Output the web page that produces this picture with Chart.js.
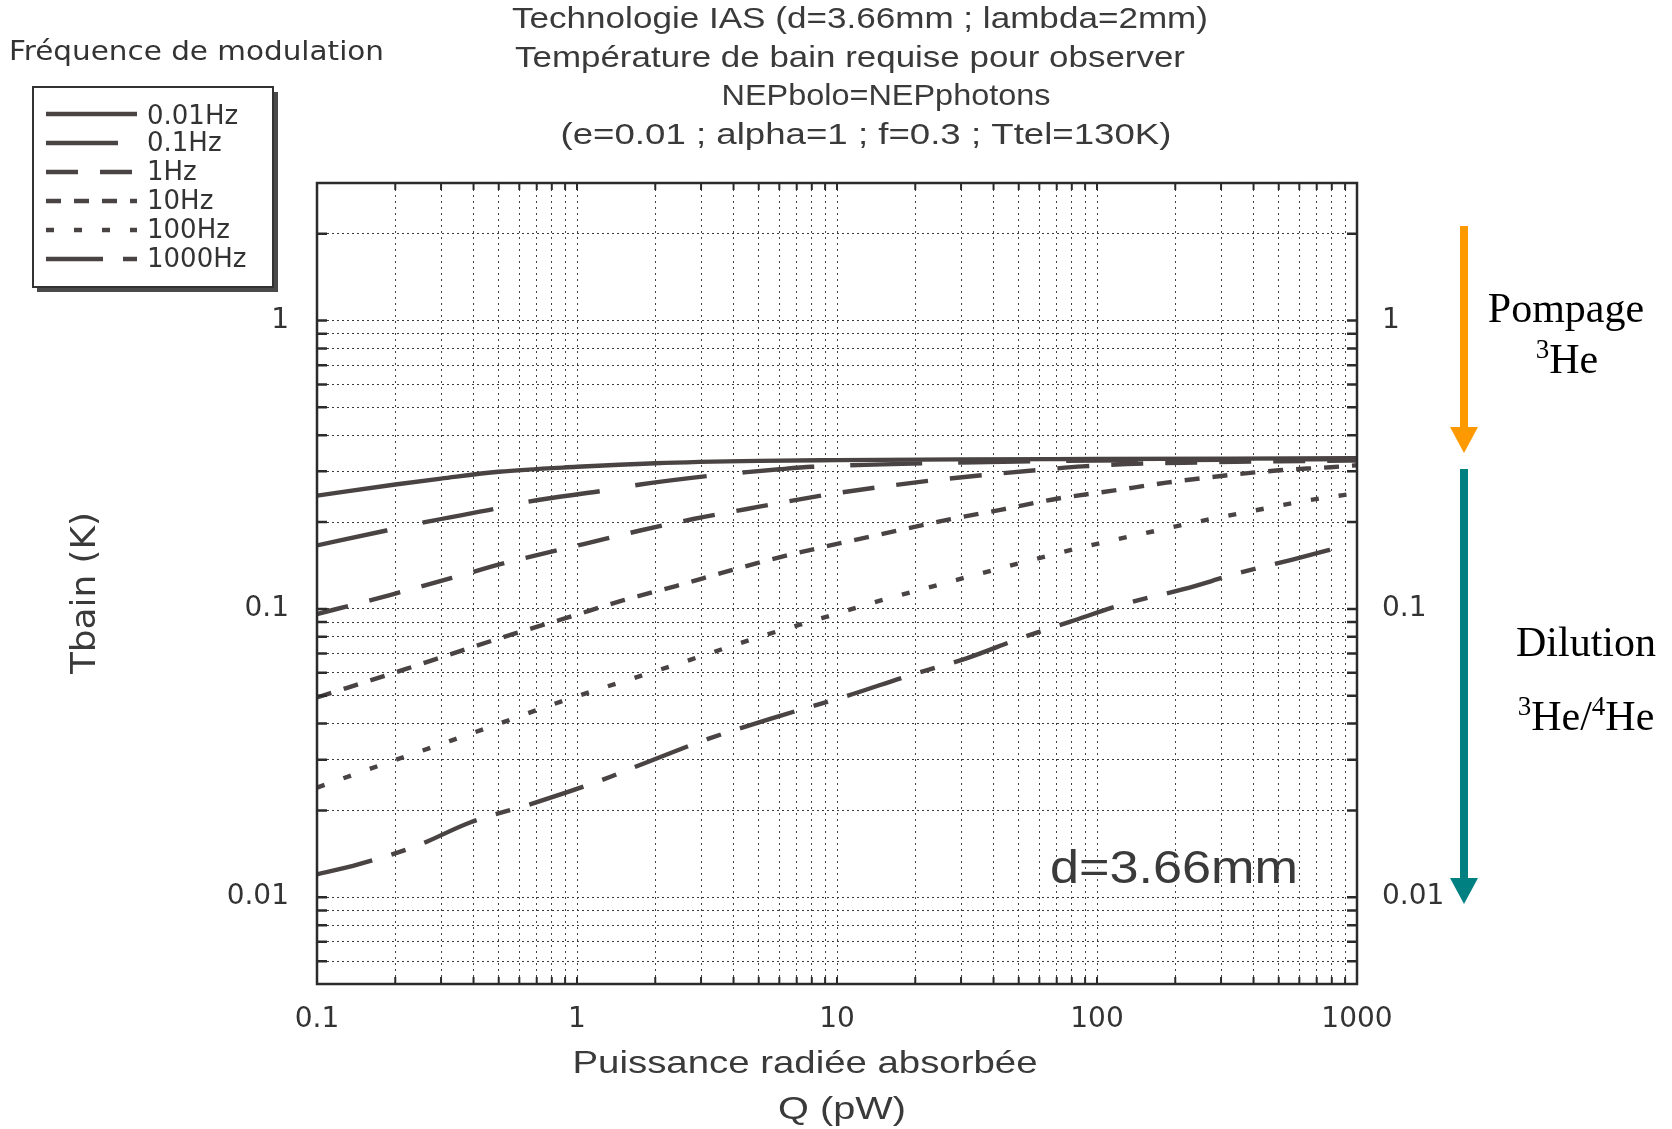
<!DOCTYPE html>
<html><head><meta charset="utf-8">
<script src="https://cdn.jsdelivr.net/npm/chart.js@4.4.1/dist/chart.umd.min.js"></script>
<style>html,body{margin:0;padding:0;background:#fff;}#wrap{width:1672px;height:1129px;position:relative;}</style>
</head><body><div id="wrap"><canvas id="c"></canvas></div>
<script>
// ---------- DATA ----------
const seriesLabels = ['0.01Hz', '0.1Hz', '1Hz', '10Hz', '100Hz', '1000Hz'];
// 0.01 Hz
const q0 = [0.1, 0.2, 0.3, 0.5, 1, 2, 5, 10, 30, 100, 1000];
const t0 = [0.247, 0.27, 0.283, 0.299, 0.311, 0.32, 0.326, 0.328, 0.33, 0.331, 0.333];
// 0.1 Hz
const q1 = [0.1, 0.185, 0.26, 0.48, 0.66, 1.26, 1.75, 3.3, 4.5, 6, 8, 15, 30, 60, 100, 300, 1000];
const t1 = [0.166, 0.187, 0.2, 0.222, 0.236, 0.257, 0.27, 0.29, 0.298, 0.305, 0.311, 0.317, 0.322, 0.325, 0.327, 0.329, 0.331];
// 1 Hz
const q2 = [0.1, 0.16, 0.2, 0.33, 0.54, 1.07, 1.75, 2.8, 4.5, 6, 9.7, 15.7, 25, 41, 67, 88, 130, 250, 500, 1000];
const t2 = [0.096, 0.107, 0.113, 0.128, 0.145, 0.168, 0.187, 0.205, 0.222, 0.233, 0.251, 0.267, 0.281, 0.294, 0.306, 0.312, 0.318, 0.322, 0.325, 0.327];
// 10 Hz
const q3 = [0.1, 0.22, 0.36, 0.57, 0.93, 1.5, 2.4, 3.9, 6, 10, 16.7, 26.8, 43, 70, 115, 185, 300, 490, 790, 1000];
const t3 = [0.0493, 0.0619, 0.0717, 0.0819, 0.0936, 0.107, 0.12, 0.136, 0.151, 0.168, 0.186, 0.204, 0.221, 0.241, 0.257, 0.274, 0.289, 0.302, 0.31, 0.315];
// 100 Hz
const q4 = [0.1, 0.185, 0.33, 0.51, 0.8, 1.24, 2, 3.25, 5.2, 8.8, 13.7, 22, 36, 58, 94, 153, 250, 400, 650, 1000];
const t4 = [0.024, 0.0292, 0.035, 0.0402, 0.0465, 0.053, 0.0608, 0.0702, 0.0807, 0.093, 0.105, 0.118, 0.133, 0.149, 0.166, 0.183, 0.2015, 0.219, 0.238, 0.252];
// 1000 Hz
const q5 = [0.1, 0.144, 0.243, 0.39, 0.66, 1.19, 1.86, 3.19, 6, 10.7, 19.7, 31.7, 51, 79, 132, 215, 350, 560, 914];
const t5 = [0.012, 0.013, 0.0151, 0.0182, 0.021, 0.0251, 0.0294, 0.0354, 0.0425, 0.0496, 0.0594, 0.0675, 0.0792, 0.0903, 0.105, 0.117, 0.133, 0.148, 0.166];

const xMajorTicks = [0.1, 1, 10, 100, 1000];
const yMajorTicks = [0.01, 0.1, 1];
const xRange = [0.1, 1000];
const yRange = [0.005, 3];

const titleLines = [
  'Technologie IAS (d=3.66mm ; lambda=2mm)',
  'Température de bain requise pour observer',
  'NEPbolo=NEPphotons',
  '(e=0.01 ; alpha=1 ; f=0.3 ; Ttel=130K)'
];
const legendTitle = 'Fréquence de modulation';
const xTitle1 = 'Puissance radiée absorbée';
const xTitle2 = 'Q (pW)';
const yTitle = 'Tbain (K)';
const insideLabel = 'd=3.66mm';

// ---------- STYLE ----------
const INK = '#4a4344';
const TXT = '#333333';
const dashes = [[], [72, 36], [32, 22], [15, 13], [8, 20], [57, 20, 15, 20]];

const qs = [q0, q1, q2, q3, q4, q5];
const ts = [t0, t1, t2, t3, t4, t5];

function logGrid(min, max) {
  const out = [];
  let e = Math.floor(Math.log10(min) + 1e-9);
  while (Math.pow(10, e) <= max * 1.0000001) {
    for (let m = 1; m <= 9; m++) {
      const v = parseFloat((m * Math.pow(10, e)).toPrecision(6));
      if (v >= min * 0.999999 && v <= max * 1.000001) out.push(v);
    }
    e++;
  }
  return out;
}
function isMajor(v, list) { return list.some(m => Math.abs(Math.log10(v / m)) < 1e-6); }
function fmt(v) { return String(parseFloat(v.toPrecision(6))); }

function fitText(ctx, text, x, y, font, width, align) {
  ctx.save();
  ctx.font = font;
  const w = ctx.measureText(text).width;
  const s = width ? width / w : 1;
  ctx.translate(x, y);
  ctx.scale(s, 1);
  ctx.textAlign = align || 'center';
  ctx.fillText(text, 0, 0);
  ctx.restore();
}

const datasets = qs.map((q, i) => ({
  label: seriesLabels[i],
  data: q.map((x, j) => ({ x: x, y: ts[i][j] })),
  borderColor: INK,
  borderWidth: 4.4,
  borderDash: dashes[i],
  borderCapStyle: 'butt',
  pointRadius: 0,
  cubicInterpolationMode: 'monotone',
  fill: false,
  xAxisID: 'x',
  yAxisID: 'y'
}));

const decor = {
  id: 'decor',
  beforeDraw(chart) {
    const c = chart.ctx;
    c.save(); c.fillStyle = '#fff'; c.fillRect(0, 0, chart.width, chart.height); c.restore();
  },
  afterDraw(chart) {
    const ctx = chart.ctx, a = chart.chartArea, xs = chart.scales.x, ys = chart.scales.y;
    ctx.save();
    // frame
    ctx.strokeStyle = '#2b2b2b';
    ctx.lineWidth = 2.5;
    ctx.strokeRect(a.left, a.top, a.right - a.left, a.bottom - a.top);
    // inner tick marks
    ctx.lineWidth = 2;
    xs.ticks.forEach(t => {
      const px = xs.getPixelForValue(t.value);
      if (px <= a.left + 1 || px >= a.right - 1) return;
      ctx.beginPath();
      ctx.moveTo(px, a.top); ctx.lineTo(px, a.top + 7);
      ctx.moveTo(px, a.bottom); ctx.lineTo(px, a.bottom - 7);
      ctx.stroke();
    });
    ctx.lineWidth = 2.5;
    ys.ticks.forEach(t => {
      const py = ys.getPixelForValue(t.value);
      if (py <= a.top + 1 || py >= a.bottom - 1) return;
      ctx.beginPath();
      ctx.moveTo(a.left, py); ctx.lineTo(a.left + 10, py);
      ctx.moveTo(a.right, py); ctx.lineTo(a.right - 10, py);
      ctx.stroke();
    });

    // titles
    ctx.fillStyle = '#3a3a3a';
    ctx.textBaseline = 'middle';
    const tf = '30px "Liberation Sans Narrow", "Liberation Sans", sans-serif';
    fitText(ctx, titleLines[0], 860, 20, tf, 696);
    fitText(ctx, titleLines[1], 850, 59, tf, 670);
    fitText(ctx, titleLines[2], 886, 97, tf, 329);
    fitText(ctx, titleLines[3], 866, 136, tf, 611);

    // axis titles
    const af = '32px "Liberation Sans Narrow", "Liberation Sans", sans-serif';
    fitText(ctx, xTitle1, 805, 1064, af, 465);
    fitText(ctx, xTitle2, 842, 1110, af, 128);
    ctx.save();
    ctx.translate(86, 593);
    ctx.rotate(-Math.PI / 2);
    fitText(ctx, yTitle, 0, 0, '34px "DejaVu Sans", sans-serif', 162);
    ctx.restore();

    // inside label
    ctx.fillStyle = '#3a3a3a';
    ctx.textBaseline = 'alphabetic';
    fitText(ctx, insideLabel, 1050, 883, '46px "Liberation Sans", sans-serif', 248, 'left');

    // legend
    ctx.textBaseline = 'middle';
    ctx.fillStyle = TXT;
    fitText(ctx, legendTitle, 9, 53, '27px "DejaVu Sans", sans-serif', 375, 'left');
    ctx.fillStyle = '#4a4a4a';
    ctx.fillRect(37, 92, 241, 200);
    ctx.fillStyle = '#fff';
    ctx.fillRect(33, 87, 240, 200);
    ctx.strokeStyle = '#333';
    ctx.lineWidth = 2;
    ctx.strokeRect(33, 87, 240, 200);
    const ly = [114, 143, 172, 201, 230, 259];
    const lyText = [117, 144, 173, 202, 231, 260];
    ctx.font = '26px "DejaVu Sans", sans-serif';
    for (let i = 0; i < 6; i++) {
      ctx.save();
      ctx.strokeStyle = INK;
      ctx.lineWidth = 4.4;
      ctx.lineCap = 'butt';
      ctx.setLineDash(dashes[i]);
      ctx.beginPath();
      ctx.moveTo(46, ly[i]);
      ctx.lineTo(i === 1 ? 120 : 137, ly[i]);
      ctx.stroke();
      ctx.restore();
      ctx.fillStyle = TXT;
      ctx.textAlign = 'left';
      ctx.fillText(seriesLabels[i], 147, lyText[i]);
    }

    // arrows
    function arrow(x, y0, y1, color) {
      ctx.save();
      ctx.fillStyle = color;
      ctx.fillRect(x - 4, y0, 8, (y1 - 26) - y0 + 1);
      ctx.beginPath();
      ctx.moveTo(x - 14, y1 - 26);
      ctx.lineTo(x + 14, y1 - 26);
      ctx.lineTo(x, y1);
      ctx.closePath();
      ctx.fill();
      ctx.restore();
    }
    arrow(1464, 226, 453, '#FF9900');
    arrow(1464, 469, 904, '#008080');

    // right annotations (serif)
    ctx.fillStyle = '#000';
    ctx.textBaseline = 'alphabetic';
    ctx.textAlign = 'center';
    ctx.font = '42px "Liberation Serif", serif';
    ctx.fillText('Pompage', 1566, 322);
    ctx.fillText('Dilution', 1586, 656);
    function sup(parts, cx, base) {
      let total = 0;
      parts.forEach(p => { ctx.font = p[1] ? '27px "Liberation Serif", serif' : '42px "Liberation Serif", serif'; total += ctx.measureText(p[0]).width; });
      let x = cx - total / 2;
      ctx.textAlign = 'left';
      parts.forEach(p => {
        ctx.font = p[1] ? '27px "Liberation Serif", serif' : '42px "Liberation Serif", serif';
        ctx.fillText(p[0], x, p[1] ? base - 15 : base);
        x += ctx.measureText(p[0]).width;
      });
    }
    sup([['3', true], ['He', false]], 1567, 373);
    sup([['3', true], ['He/', false], ['4', true], ['He', false]], 1586, 730);
    ctx.restore();
  }
};

const gridX = logGrid(xRange[0], xRange[1]);
const gridY = logGrid(yRange[0], yRange[1]);

new Chart(document.getElementById('c'), {
  type: 'line',
  data: { datasets: datasets },
  options: {
    responsive: true,
    maintainAspectRatio: false,
    animation: false,
    events: [],
    layout: { padding: { top: 183, left: 0, right: 0, bottom: 0 } },
    plugins: { legend: { display: false }, tooltip: { enabled: false }, title: { display: false } },
    scales: {
      x: {
        type: 'logarithmic',
        position: 'bottom',
        min: xRange[0], max: xRange[1],
        bounds: 'data',
        afterBuildTicks: s => { s.ticks = gridX.map(v => ({ value: v, major: isMajor(v, xMajorTicks) })); },
        afterFit: s => { s.height = 145; },
        grid: { color: '#444', lineWidth: 1, drawTicks: false },
        border: { display: false, dash: [2, 4] },
        ticks: {
          autoSkip: false, maxRotation: 0, padding: 19, color: TXT,
          font: { family: 'DejaVu Sans', size: 28 },
          callback: v => isMajor(v, xMajorTicks) ? fmt(v) : ''
        }
      },
      y: {
        type: 'logarithmic',
        position: 'left',
        min: yRange[0], max: yRange[1],
        bounds: 'data',
        afterBuildTicks: s => { s.ticks = gridY.map(v => ({ value: v, major: isMajor(v, yMajorTicks) })); },
        afterFit: s => { s.width = 317; },
        grid: { color: '#3a3a3a', lineWidth: 1, drawTicks: false },
        border: { display: false, dash: [2, 3] },
        ticks: {
          autoSkip: false, padding: 28, color: TXT,
          font: { family: 'DejaVu Sans', size: 28 },
          callback: v => isMajor(v, yMajorTicks) ? fmt(v) : ''
        }
      },
      y2: {
        type: 'logarithmic',
        position: 'right',
        min: yRange[0], max: yRange[1],
        bounds: 'data',
        afterBuildTicks: s => { s.ticks = gridY.map(v => ({ value: v, major: isMajor(v, yMajorTicks) })); },
        afterFit: s => { s.width = 315; },
        grid: { display: false, drawTicks: false },
        border: { display: false },
        ticks: {
          autoSkip: false, padding: 25, color: TXT,
          font: { family: 'DejaVu Sans', size: 28 },
          callback: v => isMajor(v, yMajorTicks) ? fmt(v) : ''
        }
      }
    }
  },
  plugins: [decor]
});
</script>
</body></html>
